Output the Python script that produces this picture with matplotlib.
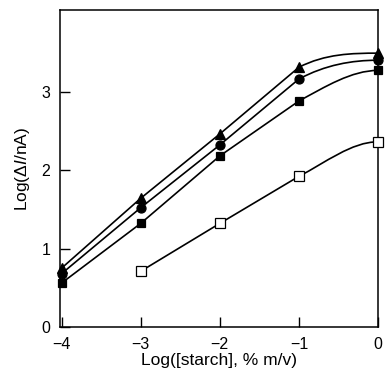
import matplotlib
matplotlib.use("Agg")
import matplotlib.pyplot as plt
import numpy as np
from matplotlib.path import Path
from matplotlib.patches import PathPatch

plt.rcParams["font.family"] = ["Liberation Sans", "DejaVu Sans"]
plt.rcParams["mathtext.fontset"] = "custom"
plt.rcParams["mathtext.rm"] = "Liberation Sans"
plt.rcParams["mathtext.it"] = "Liberation Sans:italic"

log_starch = [-4, -3, -2, -1, 0]
tri = [0.75, 1.64, 2.46, 3.31, 3.49]
circ = [0.68, 1.52, 2.32, 3.16, 3.40]
sq = [0.56, 1.32, 2.18, 2.88, 3.27]
open_x = [-3, -2, -1, 0]
open_sq = [0.71, 1.32, 1.92, 2.36]


def curve_path(x, y):
    """Straight segments, then a bend flattening out into the last point."""
    p = np.column_stack([x, y]).astype(float)
    verts = [p[0]]
    codes = [Path.MOVETO]
    for q in p[1:-1]:
        verts.append(q)
        codes.append(Path.LINETO)
    a, b = p[-2], p[-1]
    dx = b[0] - a[0]
    s_in = (a[1] - p[-3][1]) / (a[0] - p[-3][0])
    s_out = (b[1] - a[1]) / dx
    t = 0.5 * (s_in + s_out)
    c1 = a + np.array([dx / 3, t * dx / 3])
    c2 = b - np.array([dx / 3, 0.0])
    verts += [c1, c2, b]
    codes += [Path.CURVE4] * 3
    return Path(verts, codes)


fig = plt.figure(figsize=(3.85, 3.71), dpi=100)
ax = fig.add_axes([60 / 385, 1 - 327 / 371, 318 / 385, 317 / 371])

for xs, ys, mk, fc, ms in [
    (log_starch, tri, "^", "black", 7),
    (log_starch, circ, "o", "black", 6.5),
    (log_starch, sq, "s", "black", 6),
    (open_x, open_sq, "s", "white", 6.5),
]:
    ax.add_patch(PathPatch(curve_path(xs, ys), fill=False, lw=1.2,
                           ec="black", zorder=2))
    ax.plot(xs, ys, ls="none", marker=mk, ms=ms, mfc=fc, mec="black",
            mew=0.9, zorder=3, clip_on=False)

ax.set_xlim(-4.02, 0.0)
ax.set_ylim(0, 4.04)
ax.set_xticks([-4, -3, -2, -1, 0])
ax.set_xticklabels(["\u22124", "\u22123", "\u22122", "\u22121", "0"])
ax.set_yticks([0, 1, 2, 3])
ax.tick_params(direction="in", length=7, width=1.0, labelsize=11.5,
               pad=7, colors="black")
for s in ax.spines.values():
    s.set_linewidth(1.1)
ax.set_xlabel("Log([starch], % m/v)", fontsize=12.5, labelpad=1)
ax.set_ylabel("Log(\u0394$I$/nA)", fontsize=12.5, labelpad=7)

fig.savefig("out.png", dpi=100)
